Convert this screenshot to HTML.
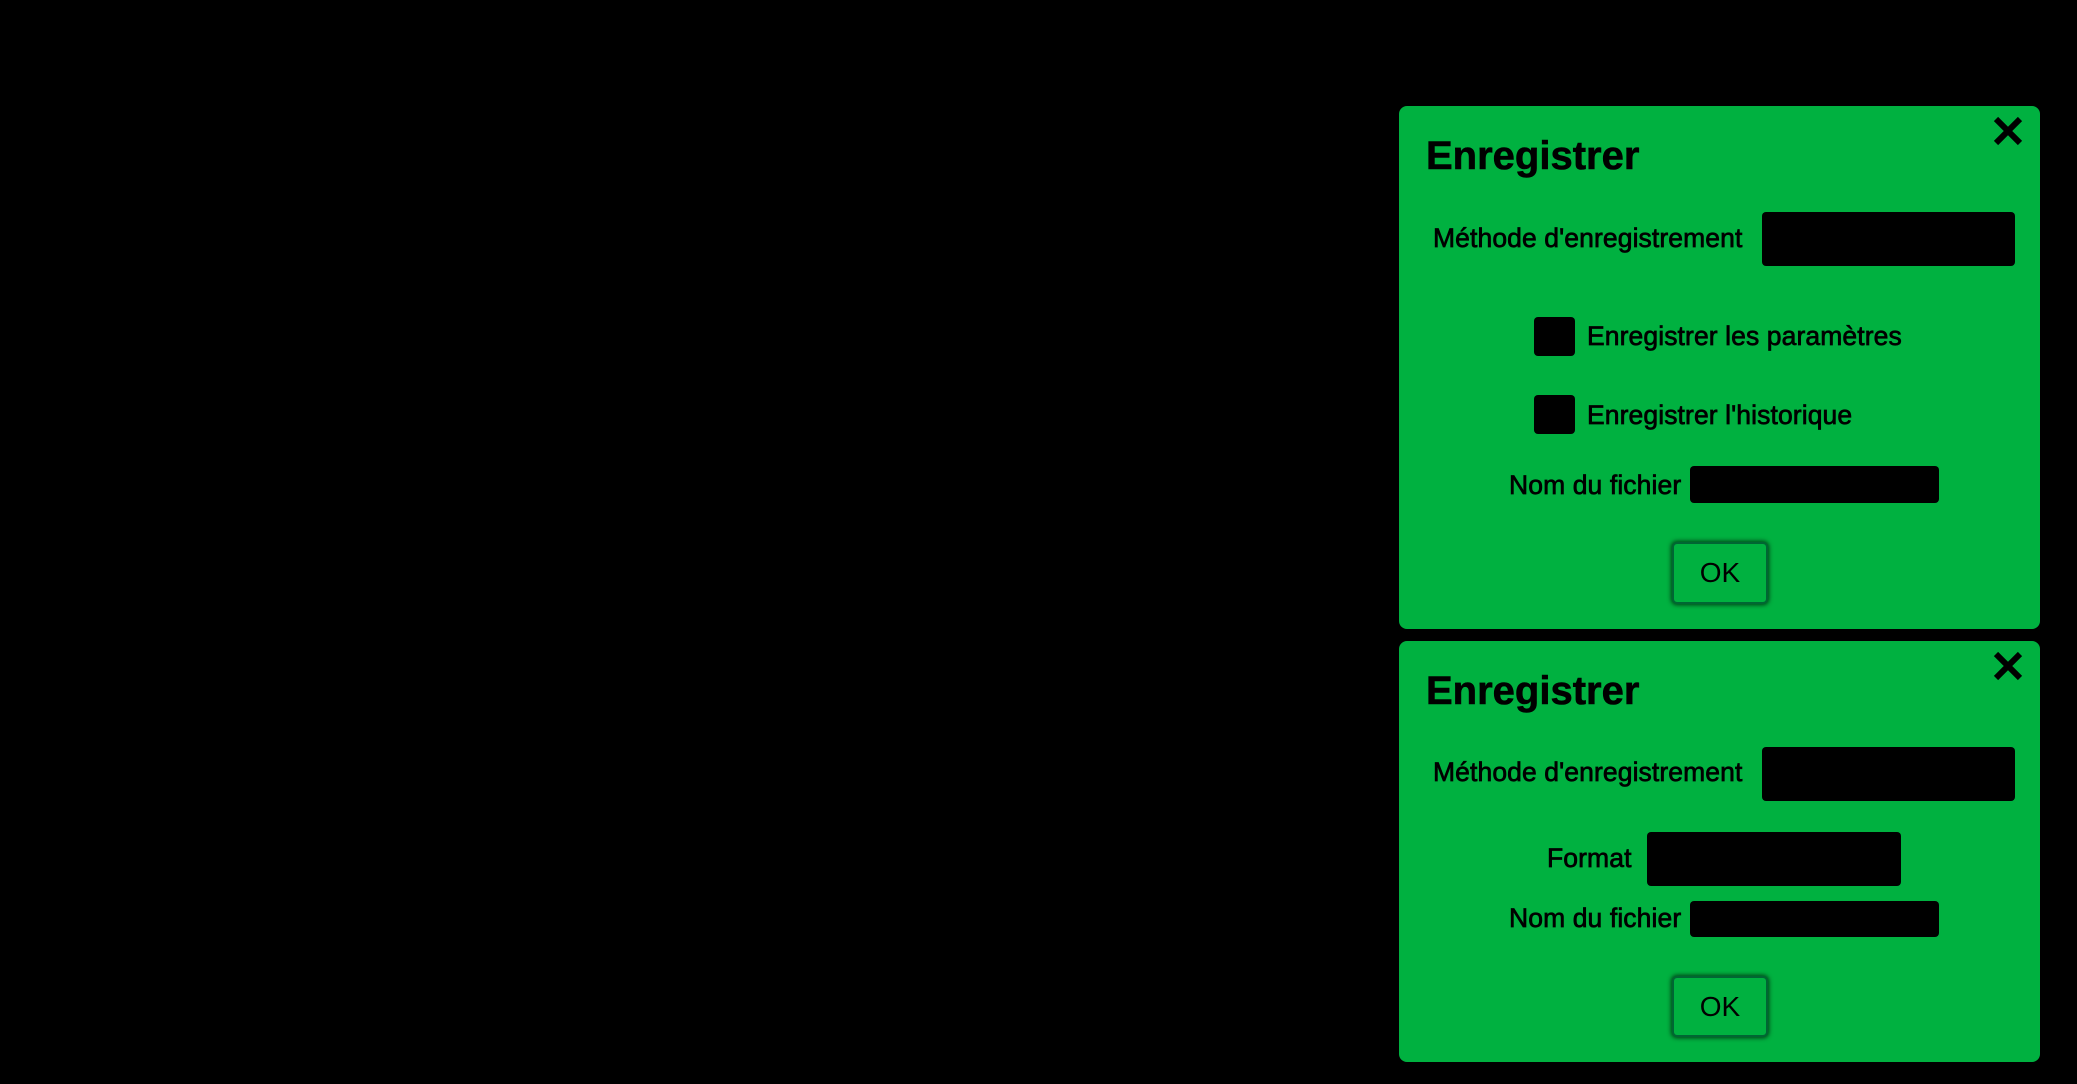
<!DOCTYPE html>
<html><head><meta charset="utf-8"><style>
body{margin:0;width:2077px;height:1084px;background:#000;position:relative;overflow:hidden;font-family:"Liberation Sans",Arial,sans-serif;color:#000}
.p{position:absolute;background:#00b140;border-radius:8px}
.a{position:absolute;white-space:nowrap}
.t{font-size:40px;font-weight:bold;line-height:40px;-webkit-text-stroke:0.6px #000}
.l{font-size:26.5px;line-height:30px;-webkit-text-stroke:0.7px #000;letter-spacing:0.1px}
.b{position:absolute;background:#000;border-radius:4px}
.ok{position:absolute;border:2px solid #063;border-radius:5px;box-shadow:0 0 4px 1px #003d15;background:#00b140;font-size:28px;text-align:center;box-sizing:border-box}
.x{position:absolute;width:32px;height:32px}
</style></head><body>
<div class="p" style="left:1399px;top:106px;width:641px;height:523px"></div>
<div class="a t" style="left:1426px;top:136px">Enregistrer</div>
<svg class="x" style="left:1992px;top:115px" viewBox="0 0 32 32"><path d="M4 4L28 28M28 4L4 28" stroke="#000" stroke-width="6"/></svg>
<div class="a l" style="left:1433px;top:223px">Méthode d'enregistrement</div>
<div class="b" style="left:1762px;top:212px;width:253px;height:54px"></div>
<div class="b" style="left:1534px;top:317px;width:41px;height:39px"></div>
<div class="a l" style="left:1587px;top:321px">Enregistrer les paramètres</div>
<div class="b" style="left:1534px;top:395px;width:41px;height:39px"></div>
<div class="a l" style="left:1587px;top:400px">Enregistrer l'historique</div>
<div class="a l" style="left:1509px;top:470px">Nom du fichier</div>
<div class="b" style="left:1690px;top:466px;width:249px;height:37px"></div>
<div class="ok" style="left:1672px;top:542px;width:96px;height:62px;line-height:58px">OK</div>

<div class="p" style="left:1399px;top:641px;width:641px;height:421px"></div>
<div class="a t" style="left:1426px;top:671px">Enregistrer</div>
<svg class="x" style="left:1992px;top:650px" viewBox="0 0 32 32"><path d="M4 4L28 28M28 4L4 28" stroke="#000" stroke-width="6"/></svg>
<div class="a l" style="left:1433px;top:757px">Méthode d'enregistrement</div>
<div class="b" style="left:1762px;top:747px;width:253px;height:54px"></div>
<div class="a l" style="left:1547px;top:843px">Format</div>
<div class="b" style="left:1647px;top:832px;width:254px;height:54px"></div>
<div class="a l" style="left:1509px;top:903px">Nom du fichier</div>
<div class="b" style="left:1690px;top:901px;width:249px;height:36px"></div>
<div class="ok" style="left:1672px;top:976px;width:96px;height:61px;line-height:57px">OK</div>
</body></html>
